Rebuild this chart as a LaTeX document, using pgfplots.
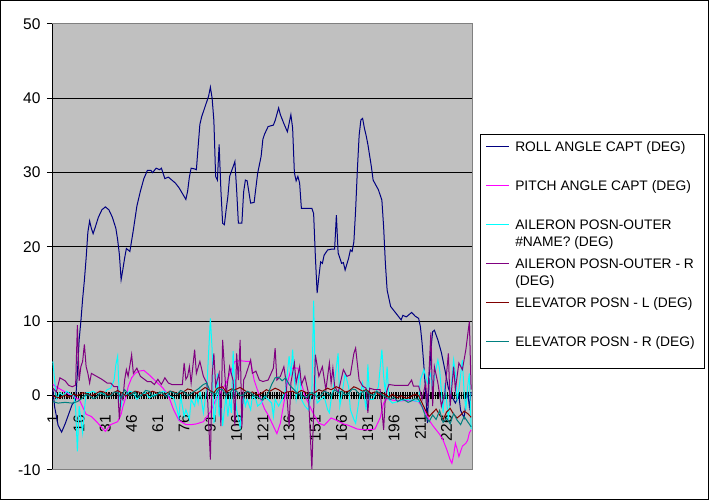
\documentclass[border=0pt]{standalone}
\usepackage{pgfplots}
\pgfplotsset{compat=1.18}
\usepackage{fontspec}
\setmainfont{Liberation Sans}
\definecolor{plotbg}{HTML}{C0C0C0}
\definecolor{framegray}{HTML}{808080}
\definecolor{rollc}{HTML}{000080}
\definecolor{pitchc}{HTML}{FF00FF}
\definecolor{ailLc}{HTML}{00FFFF}
\definecolor{ailRc}{HTML}{800080}
\definecolor{elevLc}{HTML}{800000}
\definecolor{elevRc}{HTML}{008080}
\newcommand{\twoline}[2]{\vtop{\hbox{#1}\hbox{#2}}}

\begin{document}
\begin{tikzpicture}
\useasboundingbox (0,0) rectangle (709pt,500pt);
\begin{axis}[
  at={(52pt,30pt)}, anchor=south west,
  scale only axis, width=420pt, height=446pt,
  xmin=0.5, xmax=240.5, ymin=-10, ymax=50,
  axis x line*=middle, axis y line*=left,
  axis line style={black, line width=1pt},
  axis background/.style={fill=plotbg},
  ytick={-10,0,...,50},
  yticklabels={-10,0,10,20,30,40,50},
  ymajorgrids, grid style={black, line width=1pt},
  xtick={1,16,...,226},
  xticklabels={1,16,31,46,61,76,91,106,121,136,151,166,181,196,211,226},
  minor xtick={0.5,1.5,...,240.5},
  tick align=center,
  major tick length=10pt, minor tick length=7pt,
  major x tick style={draw=none},
  minor x tick style={black, line width=0.6pt},
  major y tick style={black, line width=1pt},
  tick label style={font=\fontsize{15.5}{18}\selectfont},
  xticklabel style={yshift=-11pt, rotate=90, anchor=east},
  yticklabel style={anchor=east, xshift=-3pt},
  every axis plot/.append style={line width=1pt, mark=none},
  legend image code/.code={\draw[#1, line width=1.8pt] (0pt,5pt) -- (23pt,5pt);},
  legend style={at={(axis description cs:1.019,0.7534)}, anchor=north west,
    draw=black, fill=white, line width=1pt,
    inner xsep=5pt, inner ysep=0pt, row sep=0pt, column sep=0pt,
    cells={anchor=base west},
    nodes={inner xsep=5pt, inner ysep=0pt, text height=17pt, text depth=22pt,
      font=\fontsize{13.8}{16.7}\selectfont}},
  after end axis/.code={
    \draw[framegray, line width=1pt] (rel axis cs:0,0) -- (rel axis cs:1,0)
      -- (rel axis cs:1,1) -- (rel axis cs:0,1);
  },
]
% ROLL ANGLE CAPT
\addplot[rollc] coordinates {
(1,0.8) (2,-1.5) (4,-4.0) (6,-4.9) (8,-3.8) (10,-2.5) (12,-1.2) (14,-0.6)
(15,3.0) (16,7.5) (17,10.0) (18,13.0) (19,15.5) (20,18.5) (21,22.0) (22,23.5)
(23,22.5) (24,21.8) (25,22.5) (27,24.0) (29,25.0) (31,25.4) (33,25.0) (35,24.0)
(37,22.5) (38,21.0) (39,19.0) (40,15.6) (41,17.0) (42,18.5) (43,19.8) (45,19.4)
(47,22.3) (49,25.5) (51,27.5) (53,29.2) (55,30.3) (57,30.3) (58,30.0) (60,30.6)
(62,30.4) (63,30.6) (65,29.2) (67,29.4) (69,29.0) (71,28.6) (73,28.0) (75,27.2)
(77,26.4) (78,27.5) (79,29.4) (80,30.6) (82,30.5) (83,30.4) (84,33.5) (85,36.5)
(86,37.5) (88,38.9) (90,40.3) (91,41.5) (92,40.0) (93,37.0) (94,29.5) (95,29.0)
(96,33.8) (97,27.7) (98,23.2) (99,23.0) (100,25.0) (101,26.8) (102,29.5) (104,30.8)
(105,31.5) (106,27.7) (107,23.2) (109,23.2) (110,27.4) (111,29.0) (112,28.9) (114,25.9)
(116,26.0) (118,29.9) (120,32.2) (121,34.5) (122,35.2) (124,36.2) (127,36.4) (128,37.0)
(130,38.7) (131,37.8) (133,36.6) (135,35.5) (137,37.8) (138,36.0) (139,30.0) (140,28.9)
(141,29.5) (142,28.6) (143,25.2) (149,25.2) (150,24.5) (151,18.7) (152,13.8) (153,16.0)
(154,18.0) (155,17.8) (156,18.9) (158,19.6) (160,19.7) (162,19.7) (163,24.3) (164,19.2)
(166,17.8) (167,17.9) (168,16.9) (170,18.5) (171,19.6) (172,19.4) (173,20.7) (174,25.0)
(175,30.4) (176,35.0) (177,37.1) (178,37.3) (179,36.0) (180,35.0) (181,33.8) (183,30.8)
(184,29.0) (187,27.7) (189,26.3) (190,22.7) (191,17.8) (192,14.2) (194,12.0) (197,11.1)
(200,10.2) (201,10.8) (203,10.6) (206,11.2) (208,10.7) (210,10.4) (211,9.3) (212,7.0)
(213,4.0) (214,0.5) (215,-3.7) (216,2.0) (217,6.2) (218,8.6) (219,8.8) (221,7.5)
(223,5.8) (225,3.5) (227,1.0) (229,-0.1) (231,-1.0) (233,0.0) (234,-2.0) (236,-3.0)
(237,-1.0) (238,0.5) (239,-1.5) (240,0.5)
};
\addlegendentry{\twoline{ROLL ANGLE CAPT (DEG)}{}}
% PITCH ANGLE CAPT
\addplot[pitchc] coordinates {
(1,1.5) (3,1.2) (5,0.9) (8,0.5) (10,0.2) (12,0.0) (14,-0.3) (16,-0.5)
(18,-1.5) (20,-2.5) (23,-2.8) (26,-3.5) (29,-4.3) (31,-4.8) (34,-3.9) (38,-3.5)
(40,-2.5) (41,-1.5) (43,0.0) (44,1.2) (46,2.4) (48,3.0) (50,3.3) (53,3.4)
(56,2.8) (60,1.9) (64,1.0) (67,0.0) (70,-1.9) (73,-3.3) (77,-3.9) (80,-3.9)
(83,-3.8) (87,-3.5) (91,-2.2) (94,-0.6) (97,0.5) (100,1.7) (103,3.5) (105,4.6)
(108,4.7) (112,4.6) (114,4.6) (116,2.1) (118,0.7) (120,-0.6) (122,-1.8) (124,-2.6)
(126,-3.6) (128,-4.6) (129,-5.1) (131,-3.7) (133,-1.0) (135,1.7) (137,3.5) (138,3.7)
(141,3.7) (143,1.7) (145,0.0) (148,-1.5) (150,-2.5) (153,-3.7) (156,-4.0) (160,-3.0)
(163,-3.3) (167,-3.8) (170,-4.0) (175,-4.5) (180,-4.6) (185,-4.5) (188,-3.0) (190,-1.0)
(192,-0.4) (195,-0.6) (200,-0.7) (205,-0.6) (210,-0.8) (212,-1.5) (214,-2.3) (216,-3.3)
(218,-4.0) (220,-4.6) (222,-5.2) (224,-6.0) (226,-7.2) (228,-8.6) (229,-9.1) (230,-8.0)
(231,-6.4) (232,-7.2) (233,-8.2) (234,-7.5) (235,-6.8) (237,-6.4) (238,-6.0) (239,-5.0)
(240,-4.6)
};
\addlegendentry{\twoline{PITCH ANGLE CAPT (DEG)}{}}
% AILERON POSN-OUTER #NAME?
\addplot[ailLc] coordinates {
(1,4.6) (2,2.1) (3,-0.5) (5,0.4) (7,0.0) (9,0.6) (11,0.2) (13,0.0)
(14,-1.7) (15,-7.5) (16,-1.4) (17,-3.2) (18,-5.0) (19,-1.9) (20,0.4) (22,0.4)
(24,0.6) (26,0.3) (28,0.4) (30,0.2) (32,0.8) (34,1.0) (36,2.1) (37,4.2)
(38,5.3) (39,-0.1) (40,-1.4) (41,0.0) (43,0.2) (45,0.6) (47,0.4) (49,-0.5)
(51,0.0) (54,0.4) (56,-0.3) (59,0.1) (62,0.3) (64,0.6) (66,0.4) (68,-0.1)
(70,-0.3) (72,-1.9) (73,-3.0) (74,0.0) (76,-2.8) (77,-1.9) (79,-3.2) (80,-0.5)
(82,-1.4) (83,0.0) (84,-1.0) (85,0.8) (87,-2.3) (89,1.2) (91,10.4) (92,6.2)
(93,-3.7) (94,-1.9) (95,3.0) (96,-2.8) (97,-0.5) (98,-4.1) (99,-1.9) (100,-0.1)
(101,-2.8) (102,-0.5) (103,-2.3) (104,6.0) (105,0.4) (106,-1.9) (108,-4.3) (109,-1.4)
(110,-0.1) (111,-1.4) (112,-0.5) (114,-1.9) (115,-0.1) (117,-0.5) (118,-1.4) (120,-1.0)
(122,-0.1) (124,-0.5) (126,-1.0) (127,-2.8) (128,-0.5) (130,-1.4) (132,-0.5) (134,0.8)
(136,5.3) (137,2.6) (138,6.2) (139,2.1) (140,-0.5) (141,1.2) (142,3.9) (143,-0.5)
(145,-1.4) (147,-1.9) (148,-0.5) (149,0.4) (150,12.8) (151,1.7) (152,-1.0) (154,-0.5)
(156,-0.1) (158,-1.9) (159,-2.3) (160,-0.5) (162,2.1) (164,5.7) (165,-1.4) (166,-0.1)
(168,3.0) (170,1.2) (171,-1.9) (173,-3.2) (174,-3.7) (176,-0.5) (178,1.7) (179,-0.1)
(180,-1.9) (181,4.2) (182,-0.5) (184,-0.5) (187,1.2) (189,6.2) (190,2.6) (191,0.4)
(192,3.9) (193,-0.5) (195,-1.0) (198,-0.8) (202,-0.5) (206,-0.6) (210,-0.8) (211,2.1)
(213,3.5) (215,1.7) (217,3.0) (218,0.4) (219,2.6) (221,4.8) (222,3.5) (224,-2.3)
(225,1.7) (227,-3.2) (228,-0.5) (230,4.8) (231,3.0) (232,-0.5) (233,0.8) (235,4.8)
(236,0.4) (237,-1.9) (238,1.2) (239,3.0) (240,-4.5)
};
\addlegendentry{\twoline{AILERON POSN-OUTER}{\#NAME? (DEG)}}
% AILERON POSN-OUTER - R
\addplot[ailRc] coordinates {
(1,1.0) (3,0.5) (5,2.4) (8,2.0) (10,1.4) (12,1.2) (14,1.4) (15,9.5)
(16,2.0) (17,3.9) (18,4.6) (19,6.9) (20,3.9) (21,3.0) (22,1.7) (23,3.0)
(26,2.6) (29,2.2) (32,1.7) (34,1.7) (36,1.2) (38,1.2) (39,-3.2) (40,0.1)
(41,-0.5) (42,2.1) (43,3.5) (44,2.6) (46,5.5) (47,3.0) (49,3.7) (51,2.6)
(55,1.9) (57,1.9) (59,1.5) (61,2.2) (63,1.5) (65,2.4) (67,1.7) (69,1.5)
(72,1.5) (75,1.5) (76,4.4) (77,2.2) (78,2.6) (79,3.9) (80,1.7) (82,6.2)
(83,3.0) (85,4.6) (87,2.6) (89,1.7) (91,-8.6) (92,2.6) (93,5.7) (94,1.3)
(96,3.0) (97,-4.1) (98,7.5) (99,3.9) (100,0.0) (101,2.1) (102,3.9) (104,2.0)
(105,-4.1) (106,5.7) (107,2.1) (108,7.5) (109,-4.3) (110,2.1) (111,2.6) (114,4.8)
(115,3.0) (117,3.3) (119,2.1) (121,1.9) (124,2.1) (127,3.7) (128,6.4) (129,2.1)
(131,2.6) (133,3.9) (134,2.3) (136,-4.1) (137,1.7) (139,4.4) (140,1.7) (142,3.9)
(143,1.5) (145,2.6) (147,0.4) (149,-9.9) (151,5.5) (153,2.6) (155,3.9) (157,0.8)
(159,4.4) (160,1.7) (161,3.7) (162,1.3) (164,0.4) (167,3.5) (169,2.6) (171,2.8)
(173,5.7) (174,6.4) (176,2.1) (178,1.3) (180,1.0) (181,-2.3) (182,1.0) (185,0.8)
(188,0.8) (190,-4.6) (191,0.0) (193,1.5) (196,1.4) (200,1.4) (204,1.4) (206,2.1)
(207,1.3) (210,1.3) (212,-0.5) (214,1.7) (215,-1.4) (217,8.5) (218,-1.4) (219,3.9)
(221,1.7) (223,-1.4) (225,0.4) (227,5.7) (228,-1.4) (230,3.9) (231,0.8) (233,4.4)
(235,3.5) (237,6.2) (239,10.0) (240,0.8)
};
\addlegendentry{\twoline{AILERON POSN-OUTER - R}{(DEG)}}
% ELEVATOR POSN - L
\addplot[elevLc] coordinates {
(1,0.0) (3,-0.2) (5,-0.3) (8,0.1) (10,-0.2) (13,0.2) (15,0.0) (18,0.4)
(20,0.3) (23,0.0) (25,0.2) (28,0.6) (30,0.5) (33,0.1) (35,0.3) (38,0.7)
(40,0.4) (43,0.0) (45,0.2) (48,0.6) (50,0.5) (53,0.1) (55,0.3) (58,0.6)
(60,0.4) (63,0.0) (65,0.2) (68,0.6) (70,0.5) (73,0.2) (75,0.4) (78,0.9)
(80,0.8) (83,0.3) (85,0.6) (88,1.1) (90,0.8) (93,0.4) (95,1.0) (98,1.2)
(100,0.5) (103,0.9) (105,0.8) (108,1.1) (110,0.8) (113,0.3) (115,0.5) (118,0.1)
(120,0.3) (123,0.8) (125,0.6) (128,1.0) (130,0.8) (133,0.3) (135,0.5) (138,0.6)
(140,0.3) (143,0.7) (145,0.5) (148,0.1) (150,0.3) (153,0.8) (155,0.6) (158,1.0)
(160,0.8) (163,1.2) (165,1.0) (168,0.5) (170,0.6) (173,1.2) (175,1.0) (178,0.6)
(180,0.8) (183,0.3) (185,0.5) (188,0.1) (190,0.3) (193,-0.2) (195,0.2) (198,-0.3)
(200,0.0) (203,-0.4) (205,-0.2) (208,0.2) (210,0.0) (212,-1.0) (214,-2.0) (216,-2.8)
(218,-2.3) (220,-1.8) (222,-2.6) (224,-3.2) (226,-2.2) (228,-1.7) (230,-2.5) (232,-3.0)
(234,-2.6) (236,-2.1) (238,-2.4) (240,-2.9)
};
\addlegendentry{\twoline{ELEVATOR POSN - L (DEG)}{}}
% ELEVATOR POSN - R
\addplot[elevRc] coordinates {
(1,-0.8) (4,-1.0) (8,-0.9) (12,-1.0) (15,-0.8) (18,-0.3) (20,0.2) (22,0.0)
(24,-0.4) (26,-0.2) (28,0.4) (30,0.3) (32,-0.2) (34,0.0) (36,0.5) (38,0.4)
(40,-0.3) (42,0.8) (45,0.0) (48,0.5) (50,-0.2) (52,0.2) (54,0.7) (56,0.6)
(58,-0.1) (60,0.0) (62,0.5) (64,0.3) (66,-0.2) (68,0.6) (70,0.4) (72,0.2)
(74,0.7) (76,0.5) (78,0.0) (80,0.3) (82,0.6) (84,0.9) (87,1.5) (89,1.7)
(91,0.5) (94,0.2) (96,0.9) (98,0.8) (100,0.1) (102,0.4) (104,0.9) (106,0.6)
(108,0.0) (110,0.1) (112,0.6) (114,0.4) (116,0.0) (118,-0.2) (121,-0.6) (124,0.3)
(126,1.5) (128,2.4) (130,2.5) (132,2.0) (134,2.4) (136,1.5) (138,1.0) (140,0.5)
(143,0.0) (146,-0.3) (148,0.4) (150,0.3) (152,-0.2) (154,0.0) (156,0.6) (158,0.4)
(160,0.0) (162,0.8) (164,0.4) (166,0.6) (168,0.1) (170,0.3) (172,0.9) (174,0.8)
(176,0.2) (178,0.5) (180,0.7) (182,0.2) (184,0.0) (186,0.6) (188,0.3) (190,0.0)
(192,-0.3) (194,-0.5) (196,-0.2) (198,-0.8) (200,-0.5) (202,-0.6) (204,-0.9) (206,-0.7)
(208,-0.4) (210,-0.5) (212,-1.5) (214,-2.8) (216,-3.5) (218,-2.6) (220,-3.2) (222,-2.0)
(224,-3.6) (226,-3.0) (228,-3.8) (230,-2.4) (232,-3.3) (234,-3.9) (236,-2.8) (238,-3.5)
(240,-4.2)
};
\addlegendentry{\twoline{ELEVATOR POSN - R (DEG)}{}}
\end{axis}
\draw[black, line width=1pt] (0.5pt,0.5pt) rectangle (708.5pt,499.5pt);
\end{tikzpicture}
\end{document}
